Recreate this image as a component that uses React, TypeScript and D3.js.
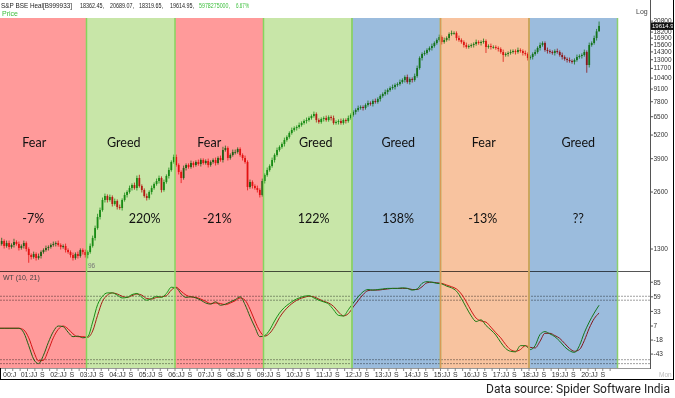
import React from 'react';
import * as d3 from 'd3';

// S&P BSE Healthcare, monthly closes Jan 2000 .. May 2020
const firstOpen = 1350;
const closes = [
  1382, 1433, 1348, 1398, 1332, 1365, 1416, 1382, 1316, 1348, 1398, 1300, // 2000
  1208, 1180, 1223, 1165, 1194, 1253, 1284, 1316, 1332, 1365, 1382, 1398, // 2001
  1365, 1332, 1348, 1284, 1253, 1208, 1165, 1223, 1194, 1284, 1253, 1208, // 2002
  1253, 1350, 1486, 1678, 1919, 2089, 2360, 2477, 2360, 2447, 2247, 2331, // 2003
  2167, 2141, 2360, 2508, 2601, 2730, 2832, 2730, 3084, 2798, 2665, 2477, // 2004
  2418, 2601, 2730, 2866, 2973, 3084, 2665, 2937, 3160, 3399, 3746, 3981, // 2005
  3612, 3317, 3084, 3483, 3612, 3525, 3701, 3612, 3746, 3656, 3838, 3701, // 2006
  3792, 3612, 3746, 3838, 3701, 3933, 3838, 4335, 4441, 3933, 4079, 4231, // 2007
  4231, 4388, 4079, 3933, 3746, 2764, 2937, 2798, 2730, 2665, 2508, 2973, // 2008
  3198, 3399, 3568, 3838, 4079, 4335, 4496, 4664, 4896, 5078, 5331, 5529, // 2009
  5665, 5735, 5876, 6021, 6169, 6244, 6398, 6556, 6717, 6244, 6094, 6321, // 2010
  6398, 6244, 6476, 6398, 6021, 6094, 6169, 6021, 6244, 6169, 6398, 6636, // 2011
  6883, 7052, 7226, 7314, 7226, 7494, 7679, 7586, 7868, 7773, 8062, 8361, // 2012
  8567, 8779, 8995, 9216, 9329, 9558, 9675, 9914, 10158, 10536, 9914, 10283, // 2013
  10158, 10664, 11755, 13276, 13937, 14108, 14632, 14993, 15362, 15932, 16524, 17137, // 2014
  16127, 16524, 16930, 17776, 17993, 17993, 16930, 16524, 16127, 15549, 15176, 15362, // 2015
  15549, 15739, 16127, 15932, 16127, 16324, 15176, 15362, 15176, 15176, 14993, 14811, // 2016
  14280, 13769, 13937, 14108, 14280, 14455, 14280, 14632, 14455, 14108, 13937, 13276, // 2017
  13438, 13937, 14280, 14993, 15549, 15932, 14632, 14455, 14280, 14108, 14455, 14280, // 2018
  13769, 13438, 13115, 12957, 12800, 12645, 12957, 13438, 13603, 13769, 14280, 12193, // 2019
  15549, 15932, 16930, 18362.45, 19614.95, // 2020
];

// upper / lower shadow of each candle, % beyond the body
const wickHi = [
  3, 4, 2, 3, 3, 2, 4, 2, 3, 2, 3, 2,
  2, 2, 3, 2, 3, 2, 2, 3, 2, 2, 3, 2,
  3, 2, 2, 3, 2, 2, 3, 2, 3, 2, 2, 3,
  2, 3, 3, 3, 4, 3, 3, 3, 2, 3, 2, 3,
  2, 3, 2, 3, 2, 3, 2, 3, 3, 4, 2, 2,
  3, 2, 3, 2, 3, 3, 2, 3, 2, 3, 2, 3,
  3, 2, 2, 3, 2, 2, 3, 2, 2, 3, 2, 2,
  2, 3, 2, 2, 3, 2, 3, 4, 3, 2, 2, 3,
  3, 2, 2, 2, 3, 2, 3, 2, 2, 3, 2, 3,
  2, 3, 2, 3, 2, 3, 2, 2, 3, 2, 2, 3,
  2, 2, 3, 2, 2, 3, 2, 2, 3, 2, 2, 2,
  2, 3, 2, 2, 3, 2, 2, 3, 2, 2, 3, 2,
  2, 2, 3, 2, 2, 2, 3, 2, 2, 3, 2, 2,
  2, 3, 2, 2, 3, 2, 2, 3, 2, 2, 3, 2,
  2, 3, 3, 2, 2, 3, 2, 2, 3, 2, 2, 3,
  2, 3, 2, 2, 3, 2, 2, 3, 2, 2, 3, 2,
  2, 2, 3, 2, 2, 3, 2, 2, 3, 2, 2, 2,
  2, 3, 2, 2, 3, 2, 2, 3, 2, 2, 3, 2,
  2, 2, 3, 2, 3, 2, 2, 3, 2, 2, 2, 3,
  2, 3, 2, 2, 3, 2, 2, 3, 2, 2, 3, 2,
  3, 2, 3, 3, 5.5,
];
const wickLo = [
  3, 2, 3, 2, 3, 2, 3, 2, 3, 2, 3, 3,
  9, 3, 2, 3, 2, 3, 2, 2, 3, 2, 2, 3,
  2, 3, 2, 3, 2, 3, 3, 2, 3, 2, 3, 3,
  4, 2, 2, 3, 2, 3, 2, 3, 3, 2, 3, 2,
  3, 2, 3, 2, 3, 2, 3, 2, 3, 2, 3, 2,
  3, 2, 3, 2, 2, 3, 3, 2, 2, 3, 2, 2,
  2, 3, 6, 2, 3, 2, 2, 3, 2, 2, 3, 2,
  2, 3, 2, 2, 3, 2, 2, 3, 2, 3, 2, 2,
  3, 2, 2, 3, 2, 4, 2, 3, 2, 3, 3, 2,
  3, 2, 2, 2, 3, 2, 2, 2, 3, 2, 2, 2,
  2, 3, 2, 2, 2, 3, 2, 2, 2, 3, 2, 2,
  3, 2, 2, 3, 2, 2, 3, 2, 2, 3, 2, 2,
  2, 3, 2, 2, 3, 2, 2, 2, 3, 2, 2, 3,
  2, 2, 3, 2, 2, 3, 2, 2, 2, 3, 2, 3,
  3, 2, 2, 2, 3, 2, 2, 2, 3, 2, 2, 2,
  3, 2, 2, 3, 2, 2, 3, 2, 2, 3, 2, 2,
  2, 3, 2, 2, 3, 2, 7, 2, 3, 2, 2, 3,
  2, 8, 2, 3, 2, 2, 3, 2, 2, 3, 2, 3,
  2, 3, 2, 2, 3, 2, 2, 3, 2, 2, 3, 2,
  2, 3, 2, 3, 2, 2, 3, 2, 2, 3, 2, 9,
  3, 2, 2, 3, 0.2,
];

// WaveTrend (10, 21), read every second month from Jan 2000
const wt1 = [
  3, 3, 3, 3, 3, -5, -28, -52, -60, -45,
  -22, -3, 7, 6, -4, -12, -11, -14, -12, 14,
  45, 60, 66, 66, 62, 57, 58, 63, 65, 58,
  53, 56, 60, 58, 65, 76, 75, 64, 58, 59,
  57, 53, 48, 46, 50, 44, 46, 50, 54, 59,
  45, 24, 5, -12, -10, 0, 16, 30, 40, 47,
  53, 57, 60, 61, 57, 53, 50, 46, 36, 26,
  25, 36, 48, 59, 68, 72, 71, 72, 73, 74,
  74, 74, 75, 74, 71, 73, 83, 86, 85, 83,
  82, 78, 75, 69, 56, 40, 25, 15, 18, 8,
  0, -9, -22, -33, -38, -39, -28, -28, -35, -28,
  -8, -3, -7, -12, -20, -30, -37, -40, -28, -5,
  14, 30, 44,
];
const wt2 = [
  3, 3, 3, 3, 3, 0, -14, -38, -55, -54,
  -36, -14, 1, 7, 2, -7, -12, -12, -13, -2,
  26, 51, 62, 66, 64, 60, 58, 61, 64, 62,
  56, 55, 58, 59, 61, 71, 76, 69, 62, 59,
  58, 55, 51, 47, 48, 47, 45, 48, 52, 57,
  53, 37, 16, -2, -11, -6, 6, 22, 34, 43,
  50, 55, 58, 60, 59, 55, 51, 48, 42, 32,
  25, 29, 41, 52, 63, 70, 71, 71, 72, 73,
  74, 74, 74, 74, 72, 72, 77, 84, 85, 84,
  83, 80, 77, 73, 64, 50, 34, 21, 16, 14,
  5, -5, -14, -26, -35, -38, -35, -28, -31, -32,
  -20, -6, -6, -10, -15, -24, -33, -38, -35, -19,
  3, 20, 30,
];

const bandStartYears = [2000, 2003, 2006, 2009, 2012, 2015, 2018];
const bandMoods = ['Fear', 'Greed', 'Fear', 'Greed', 'Greed', 'Fear', 'Greed'];
const bandReturns = ['-7%', '220%', '-21%', '122%', '138%', '-13%', '??'];
const bandThemes = ['red', 'green', 'red', 'green', 'blue', 'orange', 'blue'];

// 19500 sits under the last-price box, so it is not printed
const priceTicks = [1300, 2600, 3900, 5200, 6500, 7800, 9100, 10400, 11700, 13000, 14300, 15600, 16900, 18200, 20800];
const wtTicks = [85, 59, 33, 7, -18, -43];
const wtLevels = [60, 53, -53, -60];
const yearLabels = ['00:J', '01:JJ', '02:JJ', '03:JJ', '04:JJ', '05:JJ', '06:JJ', '07:JJ', '08:JJ', '09:JJ', '10:JJ',
  '11:JJ', '12:JJ', '13:JJ', '14:JJ', '15:JJ', '16:JJ', '17:JJ', '18:JJ', '19:JJ', '20:JJ'];
const headerName = 'S&P BSE Heal[B999933]';
const headerOhlc = ['18362.45,', '20689.07,', '18319.65,', '19614.95,'];
const headerVol = ['5978275000,', '6.67%'];

// layout / style
const theme: Record<string, { fill: string; border: string | null }> = {
  red: { fill: '#ff9a9a', border: null },
  green: { fill: '#c8e6a8', border: '#86d45e' },
  blue: { fill: '#9bbcdd', border: '#8ccf6e' },
  orange: { fill: '#f8c39f', border: '#d99a55' },
};
const moodDx = [-8, -7, -10, 8, 2, -1, 5];
const retDx = [-9, 14, -2, 6, 2, -2, 5];
const ohlcX = [80, 110, 139, 170];
const AXIS_X = 650.5;
const SPLIT_Y = 271.5;
const BOTTOM_Y = 368;
const BAND_TOP = 18;
const axisFont = "'Liberation Sans', Arial, sans-serif";
const labelFont = "Lato, 'Open Sans', sans-serif";

export default function App() {
  const x = d3.scaleLinear().domain([2000, 2021]).range([-2, 617.5]);
  const yP = d3.scaleLog().domain([1007, 21600]).range([270, 18]);
  const yW = d3.scaleLinear().domain([-66, 105]).range([367, 271]);
  const mx = (m: number) => x(2000 + (m + 0.5) / 12);

  const candles = closes.map((c, i) => {
    const o = i === 0 ? firstOpen : closes[i - 1];
    return {
      i, o, c,
      hi: Math.max(o, c) * (1 + wickHi[i] / 100),
      lo: Math.min(o, c) * (1 - wickLo[i] / 100),
    };
  });

  const wtLine = d3.line<number>()
    .x((_, i) => mx(i * 2))
    .y(v => yW(v))
    .curve(d3.curveMonotoneX);

  const quarterTicks = d3.range(2000, 2021, 0.25);
  const last = closes[closes.length - 1];

  return (
    <svg width={675} height={398} style={{ position: 'absolute', left: 0, top: 0, background: '#fff' }}>
      <rect width={675} height={398} fill="#fff" />

      {/* panel lines */}
      <line x1={0} x2={AXIS_X} y1={SPLIT_Y} y2={SPLIT_Y} stroke="#555" strokeWidth={1} />
      {wtLevels.map(l => (
        <line key={l} x1={0} x2={AXIS_X} y1={yW(l)} y2={yW(l)} stroke="#888" strokeWidth={0.8} strokeDasharray="2,1" />
      ))}
      <line x1={0} x2={AXIS_X} y1={BOTTOM_Y + 0.5} y2={BOTTOM_Y + 0.5} stroke="#999" strokeWidth={1} />

      {/* candles */}
      {candles.map(d => {
        const cx = mx(d.i);
        const up = d.c >= d.o;
        const col = up ? '#1f9a1f' : '#e31c1c';
        const top = yP(Math.max(d.o, d.c));
        const h = Math.max(0.8, yP(Math.min(d.o, d.c)) - top);
        return (
          <g key={d.i}>
            <line x1={cx} x2={cx} y1={yP(d.hi)} y2={yP(d.lo)} stroke={col} strokeWidth={0.8} />
            <rect x={cx - 0.9} y={top} width={1.8} height={h} fill={col} />
          </g>
        );
      })}

      {/* oscillator */}
      <path d={wtLine(wt2) || undefined} fill="none" stroke="#d42020" strokeWidth={1} />
      <path d={wtLine(wt1) || undefined} fill="none" stroke="#20a020" strokeWidth={1} />

      {/* sentiment bands */}
      {bandStartYears.map((y0, i) => (
        <rect key={i} x={x(y0)} y={BAND_TOP} width={x(y0 + 3) - x(y0)} height={BOTTOM_Y - BAND_TOP}
          fill={theme[bandThemes[i]].fill} style={{ mixBlendMode: 'multiply' }} />
      ))}
      {['green', 'blue', 'orange'].map(t =>
        bandStartYears.map((y0, i) => {
          if (bandThemes[i] !== t) return null;
          const b = theme[t].border!;
          const x0 = Math.max(x(y0), 0);
          const x1 = x(y0 + 3);
          return (
            <g key={t + i}>
              {x0 > 0 && <line x1={x0} x2={x0} y1={BAND_TOP} y2={BOTTOM_Y} stroke={b} strokeWidth={1.5} />}
              <line x1={x1} x2={x1} y1={BAND_TOP} y2={BOTTOM_Y} stroke={b} strokeWidth={1.5} />
            </g>
          );
        })
      )}

      {/* band captions */}
      {bandStartYears.map((y0, i) => {
        const cx = x(y0 + 1.5);
        return (
          <g key={'t' + i} fontFamily={labelFont} fontSize={12.5} fill="#111" textAnchor="middle">
            <text x={cx + moodDx[i]} y={147}>{bandMoods[i]}</text>
            <text x={cx + retDx[i]} y={223}>{bandReturns[i]}</text>
          </g>
        );
      })}

      {/* header */}
      <g fontFamily={axisFont} fontSize={6.5}>
        <text x={1} y={7.5} fill="#222" textLength={71} lengthAdjust="spacingAndGlyphs">{headerName}</text>
        {headerOhlc.map((s, i) => (
          <text key={s} x={ohlcX[i]} y={7.5} fill="#222" textLength={24} lengthAdjust="spacingAndGlyphs">{s}</text>
        ))}
        <text x={199} y={7.5} fill="#3cbf3c" textLength={31} lengthAdjust="spacingAndGlyphs">{headerVol[0]}</text>
        <text x={236} y={7.5} fill="#3cbf3c" textLength={13} lengthAdjust="spacingAndGlyphs">{headerVol[1]}</text>
        <text x={2} y={16} fill="#3cbf3c" fontSize={7}>Price</text>
        <text x={636} y={14} fill="#444" fontSize={7}>Log</text>
        <text x={88} y={268} fill="#777">96</text>
        <text x={3} y={280} fill="#444" fontSize={7}>WT (10, 21)</text>
      </g>

      {/* right axis */}
      <line x1={AXIS_X} x2={AXIS_X} y1={0} y2={BOTTOM_Y + 1} stroke="#555" />
      <g fontFamily={axisFont} fontSize={6.5} fill="#333">
        {priceTicks.map(t => (
          <g key={t}>
            <line x1={AXIS_X} x2={AXIS_X + 2.5} y1={yP(t)} y2={yP(t)} stroke="#555" />
            <text x={653.5} y={yP(t) + 2}>{t}</text>
          </g>
        ))}
        <rect x={651} y={yP(last) - 3.5} width={23} height={7.5} fill="#111" />
        <text x={652} y={yP(last) + 2.3} fill="#fff" fontSize={6}>{(Math.floor(last * 10) / 10).toFixed(1)}</text>
        {wtTicks.map(t => (
          <g key={t}>
            <line x1={AXIS_X} x2={AXIS_X + 2.5} y1={yW(t)} y2={yW(t)} stroke="#555" />
            <text x={653.5} y={yW(t) + 2.3}>{t}</text>
          </g>
        ))}
        <text x={659} y={377} fill="#bbb">Mon</text>
      </g>

      {/* time axis */}
      <g fontFamily={axisFont} fontSize={7} fill="#333">
        {quarterTicks.map(q => (
          <line key={q} x1={x(q)} x2={x(q)} y1={BOTTOM_Y + 0.5} y2={BOTTOM_Y + 3} stroke="#666" strokeWidth={0.8} />
        ))}
        {yearLabels.map((s, i) => (
          i === 0
            ? <text key={s} x={3} y={377}>{s}</text>
            : <g key={s}>
                <text x={x(2000 + i) + 1.5} y={377} textAnchor="middle">{s}</text>
                <text x={x(2000 + i + 0.5)} y={377} textAnchor="middle">S</text>
              </g>
        ))}
      </g>

      {/* frame */}
      <line x1={673.5} x2={673.5} y1={0} y2={380} stroke="#000" />
      <line x1={0} x2={674} y1={379.5} y2={379.5} stroke="#000" />
      <line x1={0.5} x2={0.5} y1={BOTTOM_Y} y2={380} stroke="#000" />

      <text x={670} y={393} textAnchor="end" fontFamily="Roboto, 'Liberation Sans', sans-serif" fontSize={12} fill="#222">
        Data source: Spider Software India
      </text>
    </svg>
  );
}
